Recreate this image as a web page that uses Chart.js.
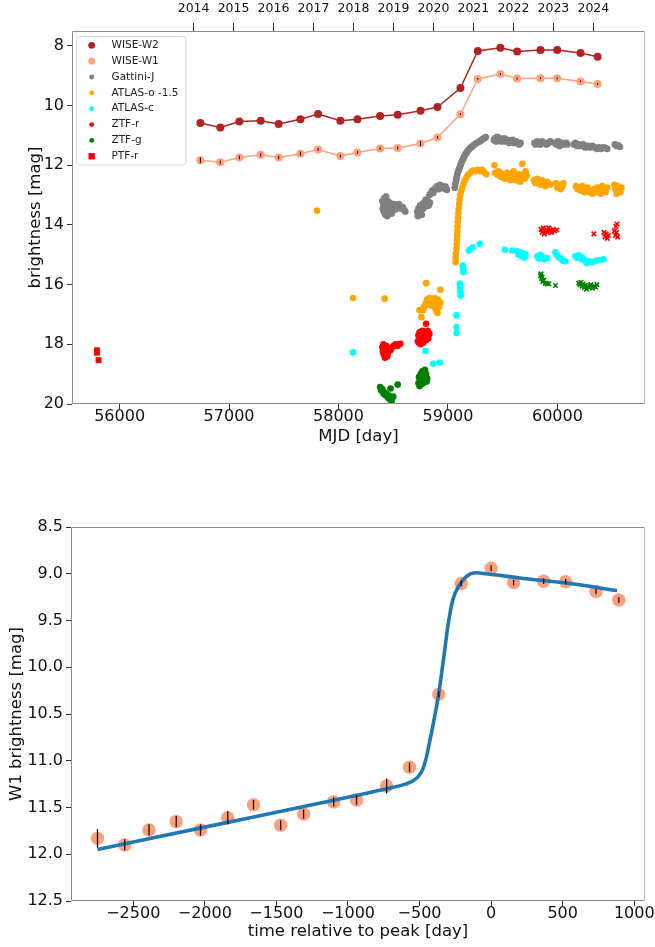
<!DOCTYPE html>
<html><head><meta charset="utf-8">
<script src="https://cdn.jsdelivr.net/npm/chart.js@4/dist/chart.umd.min.js"></script>
<style>
html,body{margin:0;padding:0;background:#fff;}
#w1{position:absolute;left:0;top:0;width:655px;height:460px;}
#w2{position:absolute;left:0;top:470px;width:655px;height:477px;}
</style></head><body>
<div id="w1"><canvas id="c1"></canvas></div>
<div id="w2"><canvas id="c2"></canvas></div>
<script>
// ---------------- DATA ----------------
const topXTicks = [56000, 57000, 58000, 59000, 60000];
const topYTicks = [8, 10, 12, 14, 16, 18, 20];
const yearMJD = [56676, 57041, 57406, 57771, 58137, 58502, 58867, 59232, 59598, 59963, 60328];
const yearLabels = ['2014','2015','2016','2017','2018','2019','2020','2021','2022','2023','2024'];

const wiseMJD = [56738,56920,57094,57289,57453,57652,57813,58017,58173,58380,58541,58749,58904,59114,59272,59479,59632,59845,59998,60211,60367];
const w2Mag = [10.58,10.73,10.53,10.51,10.62,10.46,10.28,10.51,10.46,10.35,10.31,10.17,10.05,9.41,8.17,8.06,8.19,8.14,8.14,8.24,8.36];
const w1Mag = [11.83,11.90,11.74,11.65,11.74,11.61,11.47,11.69,11.57,11.44,11.42,11.27,11.07,10.29,9.105,8.94,9.095,9.08,9.085,9.19,9.28];
const w1Err = [0.10,0.06,0.06,0.06,0.06,0.07,0.05,0.05,0.05,0.05,0.05,0.08,0.05,0.03,0.03,0.03,0.03,0.03,0.03,0.03,0.03];

const gattiniJ = [
[58400,13.20],[58405,13.45],[58410,13.30],[58414,13.55],[58418,13.10],[58422,13.40],[58426,13.65],[58430,13.25],[58434,13.05],[58438,13.50],[58442,13.35],[58446,13.70],[58450,13.20],[58454,13.45],[58458,13.30],[58462,13.58],[58466,13.25],[58470,13.40],[58475,13.50],[58480,13.30],[58486,13.62],[58492,13.35],[58498,13.45],[58505,13.30],[58512,13.40],[58520,13.48],[58535,13.38],[58552,13.30],[58568,13.45],[58585,13.40],[58600,13.50],[58610,13.55],
[58720,13.55],[58725,13.70],[58730,13.45],[58738,13.62],[58745,13.35],[58752,13.50],[58760,13.66],[58766,13.30],[58774,13.45],[58782,13.25],[58790,13.40],[58798,13.15],[58806,13.32],[58815,13.20],[58824,13.35],[58835,13.25],
[58830,13.00],[58842,12.95],[58855,12.85],[58866,12.92],[58878,12.80],[58890,12.76],[58902,12.70],[58915,12.80],[58928,12.66],[58940,12.75],[58952,12.70],[58965,12.78],[58978,12.72],[58990,12.82],
[59062,12.75],[59068,12.62],[59074,12.50],[59080,12.40],[59086,12.30],[59092,12.22],[59100,12.14],[59108,12.06],[59116,11.98],[59124,11.90],[59132,11.83],[59140,11.77],[59150,11.70],[59160,11.63],[59172,11.56],[59184,11.50],[59196,11.45],[59210,11.40],[59224,11.36],[59240,11.31],[59256,11.27],[59272,11.23],[59288,11.20],[59304,11.16],[59320,11.12],[59336,11.08],[59345,11.06],
[59420,11.15],[59430,11.10],[59440,11.20],[59450,11.05],[59460,11.15],[59475,11.10],[59490,11.20],[59500,11.15],[59515,11.10],[59530,11.20],[59545,11.15],[59560,11.25],[59575,11.20],[59590,11.15],[59605,11.25],[59625,11.20],[59650,11.30],[59662,11.25],
[59790,11.25],[59800,11.30],[59815,11.20],[59830,11.25],[59845,11.30],[59860,11.20],[59880,11.25],[59900,11.30],[59920,11.25],[59935,11.20],
[59975,11.25],[59990,11.30],[60005,11.20],[60020,11.35],[60040,11.25],[60060,11.30],[60080,11.25],[60090,11.30],
[60150,11.30],[60165,11.25],[60180,11.35],[60195,11.30],[60215,11.35],[60235,11.30],[60255,11.40],[60275,11.35],[60300,11.40],[60320,11.35],[60340,11.40],[60360,11.45],[60380,11.40],[60400,11.45],[60420,11.40],[60440,11.42],[60455,11.45],
[60525,11.30],[60540,11.35],[60555,11.33],[60570,11.38]
];

const atlasO = [
[57804,13.52],[58133,16.45],[58422,16.47],
[58740,16.86],[58758,17.09],[58801,15.95],[58931,16.17],
[58780,16.75],[58790,16.70],[58800,16.60],[58810,16.50],[58820,16.65],[58830,16.45],[58840,16.55],[58850,16.70],[58860,16.50],[58870,16.60],[58880,16.45],[58890,16.55],[58900,16.65],[58910,16.50],[58920,16.75],[58930,16.60],[58895,16.90],[58885,16.80],[58905,16.95],[58775,16.85],
[59070,15.25],[59070,15.10],[59072,14.95],[59078,14.80],[59080,14.65],[59082,14.50],[59084,14.35],[59086,14.20],[59088,14.05],[59090,13.90],[59092,13.75],[59095,13.60],[59098,13.45],[59102,13.30],[59106,13.15],[59112,13.00],[59120,12.88],[59130,12.76],[59142,12.62],[59155,12.50],[59170,12.40],[59185,12.32],[59200,12.27],[59215,12.22],[59230,12.18],[59250,12.20],[59270,12.15],[59290,12.20],[59310,12.15],[59330,12.22],[59350,12.30],
[59425,12.00],[59430,12.25],[59445,12.30],[59460,12.20],[59470,12.35],[59480,12.25],[59490,12.40],[59500,12.30],[59510,12.35],[59520,12.45],[59530,12.30],[59540,12.25],[59550,12.40],[59560,12.35],[59570,12.50],[59580,12.30],[59590,12.45],[59600,12.20],[59610,12.40],[59620,12.50],[59630,12.35],[59640,12.45],[59650,12.30],[59660,12.55],[59670,12.40],[59680,11.95],[59690,12.30],[59700,12.45],[59710,12.20],[59720,12.35],
[59785,12.50],[59800,12.60],[59815,12.45],[59830,12.55],[59845,12.65],[59860,12.50],[59875,12.60],[59890,12.70],[59905,12.55],[59920,12.60],[59935,12.65],
[59985,12.60],[60000,12.75],[60015,12.65],[60030,12.80],[60045,12.70],[60055,12.60],
[60170,12.70],[60185,12.80],[60200,12.75],[60215,12.85],[60230,12.70],[60245,12.90],[60260,12.80],[60275,12.75],[60290,12.90],[60305,12.85],[60320,12.95],[60335,12.80],[60350,12.90],[60365,12.75],[60380,12.85],[60395,12.95],[60410,12.70],[60425,12.80],[60440,12.90],[60455,12.75],
[60520,12.65],[60530,12.80],[60540,12.95],[60550,12.70],[60560,12.85],[60575,12.90],[60585,12.75]
];

const atlasC = [
[58133,18.27],[58795,18.22],[58865,18.65],[58925,18.61],
[59078,17.03],[59078,17.42],[59078,17.62],[59110,15.96],[59112,16.10],[59114,16.22],[59116,16.36],[59135,15.36],[59138,15.47],[59141,15.58],
[59190,14.86],[59200,14.82],[59227,14.75],[59291,14.63],
[59519,14.83],[59587,14.86],[59632,14.88],[59645,15.00],[59660,14.92],[59675,15.05],[59690,14.95],[59700,15.10],[59708,15.00],
[59815,15.05],[59830,15.12],[59845,15.00],[59860,15.08],[59876,15.15],[59906,15.11],
[59982,14.92],[59995,15.00],[60010,15.08],[60030,15.12],[60050,15.20],[60073,15.22],
[60165,15.05],[60180,15.10],[60195,15.02],[60210,15.12],[60225,15.08],[60240,15.15],[60255,15.20],[60270,15.28],[60290,15.22],[60320,15.25],[60350,15.20],[60380,15.18],[60420,15.15]
];

const ztfR = [
[58400,18.10],[58405,18.25],[58410,18.00],[58415,18.35],[58420,18.15],[58425,18.45],[58430,18.30],[58435,18.05],[58440,18.20],[58445,18.40],[58450,18.30],[58460,18.15],[58475,18.20],[58490,18.10],[58505,18.05],[58520,18.00],[58540,18.05],[58555,18.00],[58565,17.98],
[58725,17.90],[58730,17.70],[58735,17.95],[58740,17.60],[58745,17.80],[58750,18.00],[58755,17.70],[58760,17.85],[58765,17.55],[58770,17.75],[58775,17.95],[58780,17.65],[58785,17.80],[58790,17.60],[58795,17.75],[58800,17.31],[58805,17.85],[58810,17.70],[58815,17.55],[58820,17.80],[58830,17.65]
];
const ztfRx = [
[59850,14.15],[59860,14.25],[59870,14.10],[59880,14.30],[59890,14.20],[59900,14.15],[59910,14.25],[59920,14.10],[59930,14.20],[59945,14.25],[59960,14.15],[59975,14.20],[59995,14.17],
[60333,14.30],[60425,14.25],[60435,14.40],[60445,14.30],[60455,14.45],[60465,14.35],
[60520,14.20],[60530,14.35],[60535,14.05],[60540,14.25],[60545,13.97],[60550,14.40]
];
const ztfG = [
[58380,19.43],[58390,19.55],[58400,19.50],[58410,19.65],[58415,19.60],[58425,19.70],[58435,19.65],[58445,19.75],[58455,19.80],[58460,19.72],[58470,19.85],[58475,19.48],[58485,19.90],[58490,19.80],[58500,19.75],[58541,19.35],
[58730,19.30],[58735,19.10],[58740,19.40],[58745,19.20],[58750,19.00],[58755,19.35],[58760,19.25],[58765,18.90],[58770,19.15],[58775,19.30],[58780,19.05],[58785,19.20],[58790,18.85],[58795,19.10],[58800,19.00],[58805,19.25],[58810,19.15]
];
const ztfGx = [
[59846,15.70],[59850,15.64],[59855,15.80],[59860,15.75],[59865,15.90],[59875,15.85],[59890,15.95],[59906,15.97],[59921,15.97],[59982,16.03],
[60195,15.95],[60205,16.00],[60215,15.92],[60225,16.05],[60235,15.98],[60245,16.10],[60255,16.02],[60265,16.15],[60275,16.05],[60290,16.10],[60305,16.00],[60320,16.12],[60335,16.05],[60350,16.08],[60360,16.00]
];
const ptfR = [[55793,18.20],[55793,18.28],[55808,18.53]];

// bottom panel
const botXTicks = [-2500,-2000,-1500,-1000,-500,0,500,1000];
const botYTicks = [8.5,9.0,9.5,10.0,10.5,11.0,11.5,12.0,12.5];
const w1RelDays = [-2750,-2560,-2390,-2200,-2030,-1840,-1660,-1470,-1310,-1100,-940,-730,-570,-366,-209,0,157,367,521,733,892];
const fitT = [-2750,-2000,-1000,-700,-600,-550,-510,-480,-455,-430,-400,-366,-327,-303,-268,-221,-174,-104,-34,199,549,880];
const fitMag = [11.95,11.71,11.39,11.29,11.25,11.22,11.17,11.10,10.98,10.80,10.57,10.28,9.85,9.57,9.28,9.12,9.03,8.99,9.00,9.045,9.105,9.18];

// ---------------- RENDER ----------------
const FAM = "'DejaVu Sans', sans-serif";
Chart.defaults.font.family = FAM;
Chart.defaults.color = '#111';
Chart.defaults.animation = false;
const P = a => a.map(([x,y]) => ({x, y}));
const zip = (xs, ys) => xs.map((x,i) => ({x, y: ys[i]}));
const minus = v => (v < 0 ? '\u2212' + Math.abs(v) : String(v));

const framePlugin = {id:'frame', afterDatasetsDraw(chart){
  const {ctx, chartArea:a} = chart;
  const L = Math.round(a.left)+0.5, R = Math.round(a.right)-0.5, T = Math.round(a.top)+0.5, B = Math.round(a.bottom)-0.5;
  ctx.save(); ctx.lineWidth = 1;
  ctx.strokeStyle = '#8a8a8a';
  ctx.beginPath(); ctx.moveTo(L,B); ctx.lineTo(L,T); ctx.lineTo(R,T); ctx.moveTo(L,B); ctx.lineTo(R,B); ctx.stroke();
  ctx.strokeStyle = '#b8b8b8';
  ctx.beginPath(); ctx.moveTo(R,T); ctx.lineTo(R,B); ctx.stroke();
  ctx.restore();
}};
const errPlugin = {id:'errbars', afterDatasetsDraw(chart){
  const ctx = chart.ctx, ys = chart.scales.y;
  chart.data.datasets.forEach((ds,di) => {
    if (!ds.errors) return;
    const meta = chart.getDatasetMeta(di);
    ctx.save(); ctx.strokeStyle = '#111'; ctx.lineWidth = ds.errWidth || 1.2;
    meta.data.forEach((pt,i) => {
      const d = ds.data[i], e = ds.errors[i];
      ctx.beginPath(); ctx.moveTo(pt.x, ys.getPixelForValue(d.y - e)); ctx.lineTo(pt.x, ys.getPixelForValue(d.y + e)); ctx.stroke();
    });
    ctx.restore();
  });
}};
const legendPlugin = {id:'boxLegend', afterDraw(chart){
  const ctx = chart.ctx;
  const items = chart.data.datasets.filter(d => d.legendMark);
  const x0 = 76.5, y0 = 36.5, w = 109.5, h = 128.5, r = 3;
  ctx.save();
  ctx.beginPath();
  ctx.moveTo(x0+r,y0); ctx.lineTo(x0+w-r,y0); ctx.quadraticCurveTo(x0+w,y0,x0+w,y0+r);
  ctx.lineTo(x0+w,y0+h-r); ctx.quadraticCurveTo(x0+w,y0+h,x0+w-r,y0+h);
  ctx.lineTo(x0+r,y0+h); ctx.quadraticCurveTo(x0,y0+h,x0,y0+h-r);
  ctx.lineTo(x0,y0+r); ctx.quadraticCurveTo(x0,y0,x0+r,y0); ctx.closePath();
  ctx.fillStyle = 'rgba(255,255,255,0.85)'; ctx.fill();
  ctx.strokeStyle = '#d6d6d6'; ctx.lineWidth = 1; ctx.stroke();
  items.forEach((d,i) => {
    const cy = 45.3 + i*15.85, cx = 91.7, m = d.legendMark;
    ctx.fillStyle = m.color;
    if (m.shape === 'rect') ctx.fillRect(cx-3.2, cy-3.2, 6.4, 6.4);
    else { ctx.beginPath(); ctx.arc(cx, cy, m.r, 0, 2*Math.PI); ctx.fill(); }
    ctx.fillStyle = '#222'; ctx.font = '10.5px ' + FAM; ctx.textBaseline = 'middle'; ctx.textAlign = 'left';
    ctx.fillText(d.label, 111.5, cy);
  });
  ctx.restore();
}};

const axisCommon = (extra) => Object.assign({
  type:'linear',
  grid:{drawOnChartArea:false, drawTicks:true, tickLength:5, color:'#333', lineWidth:1},
  border:{display:false}
}, extra);

function dot(label, data, color, r, legendR) {
  return {label, data: P(data), pointBackgroundColor: color, backgroundColor: color, pointBorderWidth:0, pointRadius:r,
    legendMark: legendR ? {color, r: legendR} : null};
}
function cross(label, data, color) {
  return {label, data: P(data), pointStyle:'crossRot', pointBorderColor: color, borderColor: color, pointBorderWidth:1.6, pointRadius:3.2};
}

new Chart(document.getElementById('c1'), {
  type:'scatter',
  data:{datasets:[
    {label:'WISE-W2', data: zip(wiseMJD, w2Mag), showLine:true, borderColor:'#b22222', borderWidth:1.5,
     pointBackgroundColor:'#b22222', pointBorderWidth:0, pointRadius:4, legendMark:{color:'#b22222', r:3.4}},
    {label:'WISE-W1', data: zip(wiseMJD, w1Mag), showLine:true, borderColor:'#ffa07a', borderWidth:1.5,
     pointBackgroundColor:'#ffa07a', pointBorderWidth:0, pointRadius:4, errors: w1Err, errWidth:1, legendMark:{color:'#ffa07a', r:3.4}},
    dot('Gattini-J', gattiniJ, '#808080', 3.4, 2.4),
    dot('ATLAS-o -1.5', atlasO, '#ffa500', 3.3, 2.4),
    dot('ATLAS-c', atlasC, '#00ffff', 3.3, 2.4),
    dot('ZTF-r', ztfR, '#ff0000', 3.3, 2.4),
    dot('ZTF-g', ztfG, '#008000', 3.3, 2.4),
    Object.assign({label:'PTF-r', data:P(ptfR), pointStyle:'rect', pointBackgroundColor:'#ff0000', pointBorderWidth:0, pointRadius:4.2,
      legendMark:{color:'#ff0000', shape:'rect'}}),
    cross('ZTF-r x', ztfRx, '#ff0000'),
    cross('ZTF-g x', ztfGx, '#008000')
  ]},
  options:{
    responsive:true, maintainAspectRatio:false,
    layout:{padding:{left:0, right:10, top:0, bottom:0}},
    plugins:{legend:{display:false}, tooltip:{enabled:false}},
    scales:{
      x: axisCommon({position:'bottom', min:55565, max:60800,
        afterBuildTicks: s => { s.ticks = topXTicks.map(v => ({value:v})); },
        ticks:{callback: v => String(v), font:{size:16, lineHeight:1}, padding:0, maxRotation:0, autoSkip:false, color:'#111'},
        title:{display:true, text:'MJD [day]', font:{size:16.5, lineHeight:1.2}, padding:{top:0, bottom:13}, color:'#111'},
        afterFit: s => { s.height = 56; }}),
      x2: axisCommon({position:'top', min:55565, max:60800,
        afterBuildTicks: s => { s.ticks = yearMJD.map(v => ({value:v})); },
        ticks:{callback: (v,i) => yearLabels[i], font:{size:12.5, lineHeight:1}, padding:8, maxRotation:0, autoSkip:false, color:'#111'},
        grid:{drawOnChartArea:false, drawTicks:true, tickLength:8, color:'#333', lineWidth:1},
        afterFit: s => { s.height = 31; }}),
      y: axisCommon({position:'left', reverse:true, min:7.5, max:20,
        afterBuildTicks: s => { s.ticks = topYTicks.map(v => ({value:v})); },
        ticks:{callback: v => String(v), font:{size:16}, padding:3, autoSkip:false, color:'#111'},
        title:{display:true, text:'brightness [mag]', font:{size:16.5, lineHeight:1.2}, padding:{top:26, bottom:0}, color:'#111'},
        afterFit: s => { s.width = 72; }})
    }
  },
  plugins:[framePlugin, errPlugin, legendPlugin]
});

new Chart(document.getElementById('c2'), {
  type:'scatter',
  data:{datasets:[
    {label:'fit', data: zip(fitT, fitMag), showLine:true, borderColor:'#1f77b4', borderWidth:3.6, pointRadius:0,
     cubicInterpolationMode:'monotone', borderCapStyle:'butt'},
    {label:'W1', data: zip(w1RelDays, w1Mag), pointBackgroundColor:'#fba07c', pointBorderWidth:0, pointRadius:6.7,
     errors: w1Err, errWidth:1.3}
  ]},
  options:{
    responsive:true, maintainAspectRatio:false,
    layout:{padding:{left:0, right:10, top:57, bottom:0}},
    plugins:{legend:{display:false}, tooltip:{enabled:false}},
    scales:{
      x: axisCommon({position:'bottom', min:-2935, max:1075,
        afterBuildTicks: s => { s.ticks = botXTicks.map(v => ({value:v})); },
        ticks:{callback: v => minus(v), font:{size:16, lineHeight:1}, padding:0, maxRotation:0, autoSkip:false, color:'#111'},
        title:{display:true, text:'time relative to peak [day]', font:{size:16.5, lineHeight:1.2}, padding:{top:0, bottom:5}, color:'#111'},
        afterFit: s => { s.height = 46; }}),
      y: axisCommon({position:'left', reverse:true, min:8.5, max:12.5,
        afterBuildTicks: s => { s.ticks = botYTicks.map(v => ({value:v})); },
        ticks:{callback: v => v.toFixed(1), font:{size:16}, padding:3, autoSkip:false, color:'#111'},
        title:{display:true, text:'W1 brightness [mag]', font:{size:16.5, lineHeight:1.2}, padding:{top:7, bottom:0}, color:'#111'},
        afterFit: s => { s.width = 71; }})
    }
  },
  plugins:[framePlugin, errPlugin]
});
</script>
</body></html>
